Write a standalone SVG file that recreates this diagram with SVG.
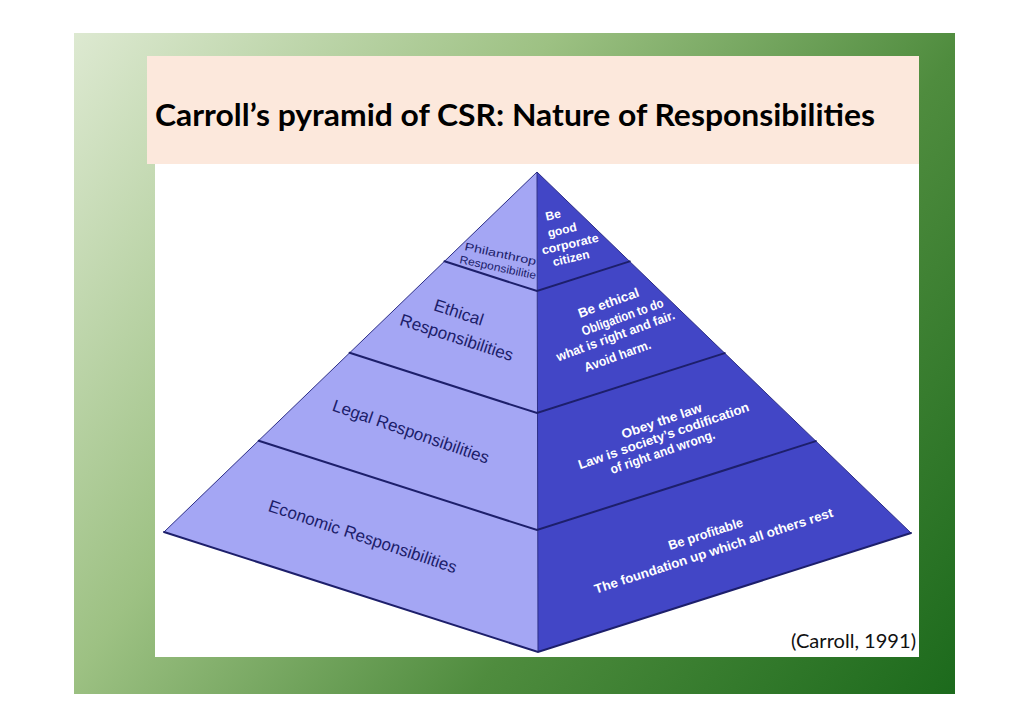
<svg xmlns="http://www.w3.org/2000/svg" width="1030" height="728" viewBox="0 0 1030 728">
  <defs>
    <linearGradient id="bg" gradientUnits="userSpaceOnUse" x1="74" y1="33" x2="955" y2="694">
      <stop offset="0" stop-color="#dde9d1"/>
      <stop offset="0.35" stop-color="#9dc183"/>
      <stop offset="0.65" stop-color="#4f8c3e"/>
      <stop offset="1" stop-color="#1c6a1c"/>
    </linearGradient>
    <clipPath id="rightClip">
      <polygon points="537,172 538,652 911,533"/>
    </clipPath>
    <style>
      .title { font-family: Lato, "Liberation Sans", sans-serif; font-weight: bold; font-size: 30px; fill: #000000; }
      .cite { font-family: Lato, "Liberation Sans", sans-serif; font-size: 19px; fill: #111111; }
      .lt { font-family: "Liberation Sans", Arial, sans-serif; font-size: 17px; fill: #1c1d6a; text-anchor: middle; }
      .lts { font-family: "Liberation Sans", Arial, sans-serif; font-size: 11px; fill: #1c1d6a; }
      .rt { font-family: "Liberation Sans", Arial, sans-serif; font-weight: bold; font-size: 13px; fill: #ffffff; text-anchor: middle; }
      .rts { font-family: "Liberation Sans", Arial, sans-serif; font-weight: bold; font-size: 12px; fill: #ffffff; text-anchor: middle; }
      .face-l { fill: #a4a6f4; }
      .face-r { fill: #4246c6; }
      .edge { fill: none; stroke: #1d1f6b; stroke-width: 2; stroke-linecap: round; }
      .thin { fill: none; stroke: #2c2e86; stroke-width: 1; }
    </style>
  </defs>

  <!-- background -->
  <rect x="74" y="33" width="881" height="661" fill="url(#bg)"/>
  <rect x="155" y="160" width="764" height="497" fill="#ffffff"/>

  <!-- title -->
  <g id="title">
    <rect x="147" y="56" width="772" height="108" fill="#fce8dc"/>
    <text class="title" x="155" y="126" textLength="720" lengthAdjust="spacingAndGlyphs">Carroll’s pyramid of CSR: Nature of Responsibilities</text>
  </g>

  <!-- pyramid faces -->
  <g id="pyramid">
    <polygon class="face-l" points="537,172 164,532 538,652"/>
    <polygon class="face-r" points="537,172 538,652 911,533"/>
    <line class="thin" x1="537" y1="172" x2="538" y2="652"/>
    <polyline class="thin" points="537,172 164,532"/>
    <polyline class="thin" points="537,172 911,533"/>
    <polyline class="edge" points="164,532 538,652 911,533"/>
  </g>

  <!-- layer boundary lines -->
  <g id="connectors">
    <polyline class="edge" points="444.5,261.3 537,291 629.7,261.4"/>
    <polyline class="edge" points="349.6,352.8 537,413 724.7,353.1"/>
    <polyline class="edge" points="258.7,440.7 537,530 815.8,441.1"/>
  </g>

  <!-- layers -->
  <g id="philanthropic">
    <text class="lts" transform="translate(464,250) rotate(12)" textLength="73" lengthAdjust="spacingAndGlyphs">Philanthrop</text>
    <text class="lts" transform="translate(459,263) rotate(12)" textLength="78" lengthAdjust="spacingAndGlyphs">Responsibilitie</text>
    <g clip-path="url(#rightClip)">
      <text class="rts" transform="translate(554,219) rotate(-13)">Be</text>
      <text class="rts" transform="translate(563,234) rotate(-13)">good</text>
      <text class="rts" transform="translate(571,248) rotate(-13)" textLength="58" lengthAdjust="spacingAndGlyphs">corporate</text>
      <text class="rts" transform="translate(572,262) rotate(-13)">citizen</text>
    </g>
  </g>

  <g id="ethical">
    <text class="lt" transform="translate(457,318) rotate(18)">Ethical</text>
    <text class="lt" transform="translate(455,343) rotate(18)">Responsibilities</text>
    <g clip-path="url(#rightClip)">
      <text class="rt" transform="translate(610,307) rotate(-20)" textLength="64" lengthAdjust="spacingAndGlyphs">Be ethical</text>
      <text class="rt" transform="translate(624,321) rotate(-20)" textLength="86" lengthAdjust="spacingAndGlyphs">Obligation to do</text>
      <text class="rt" transform="translate(617,340) rotate(-20)" textLength="125" lengthAdjust="spacingAndGlyphs">what is right and fair.</text>
      <text class="rt" transform="translate(619,360) rotate(-20)" textLength="70" lengthAdjust="spacingAndGlyphs">Avoid harm.</text>
    </g>
  </g>

  <g id="legal">
    <text class="lt" transform="translate(409,437) rotate(19)">Legal Responsibilities</text>
    <text class="rt" transform="translate(663,425) rotate(-19)" textLength="84" lengthAdjust="spacingAndGlyphs">Obey the law</text>
    <text class="rt" transform="translate(665,440) rotate(-19)" textLength="180" lengthAdjust="spacingAndGlyphs">Law is society’s codification</text>
    <text class="rt" transform="translate(664,456) rotate(-19)" textLength="110" lengthAdjust="spacingAndGlyphs">of right and wrong.</text>
  </g>

  <g id="economic">
    <text class="lt" transform="translate(361,542) rotate(18.5)">Economic Responsibilities</text>
    <text class="rt" transform="translate(707,538) rotate(-18)" textLength="78" lengthAdjust="spacingAndGlyphs">Be profitable</text>
    <text class="rt" transform="translate(715,555) rotate(-18)" textLength="250" lengthAdjust="spacingAndGlyphs">The foundation up which all others rest</text>
  </g>

  <!-- citation -->
  <text id="citation" class="cite" x="791" y="648" textLength="125" lengthAdjust="spacingAndGlyphs">(Carroll, 1991)</text>
</svg>
